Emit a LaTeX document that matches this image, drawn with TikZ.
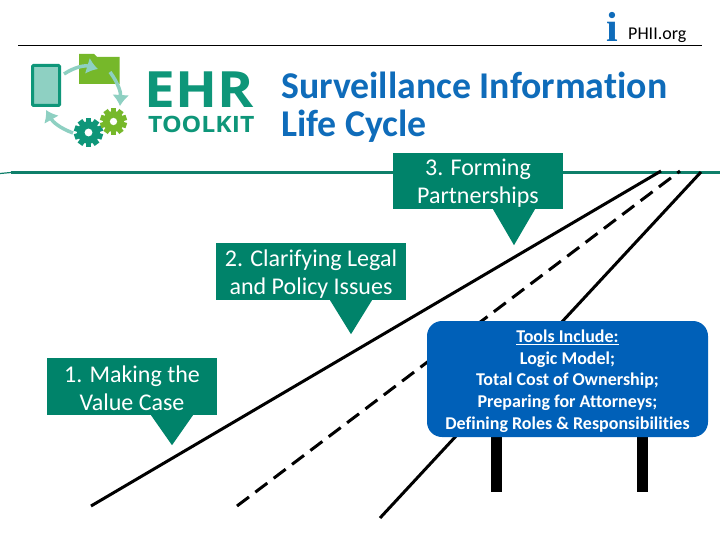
\documentclass[tikz,border=0pt]{standalone}
\usepackage{fontspec}
\setmainfont[Ligatures=NoCommon]{Carlito}
\newfontfamily\logofont[FakeStretch=1.1]{Open Sans}
\newfontfamily\markfont{Liberation Serif}
\usetikzlibrary{arrows.meta,calc,positioning}
\definecolor{barteal}{HTML}{0F7F6A}
\definecolor{callgreen}{HTML}{00836A}
\definecolor{titleblue}{HTML}{0F6CBA}
\definecolor{signblue}{HTML}{0060B8}
\definecolor{logoteal}{HTML}{0E9679}
\definecolor{logolight}{HTML}{8ED0C2}
\definecolor{logogreen}{HTML}{76B82A}
\newcommand{\gearwheel}[4]{% x, y, radius, colour
  \fill[#4] (#1,#2) circle (#3*0.78);
  \foreach \ang in {0,36,...,324}
    \fill[#4, rotate around={\ang:(#1,#2)}] ($(#1,#2)+(-#3*0.2,-#3*0.7)$) rectangle ($(#1,#2)+(#3*0.2,-#3)$);
  \fill[white] (#1,#2) circle (#3*0.27);
}
\newcommand{\callstrut}{\rule{0pt}{21pt}}
\begin{document}
\begin{tikzpicture}[x=1pt,y=-1pt,
    callbox/.style = {fill=callgreen, text=white, align=center, inner sep=0pt, font=\fontsize{24}{28}\selectfont},
    road/.style = {black, line width=3pt},
    signpost/.style = {black, line width=11pt},
    logoarrow/.style = {logolight, line width=3.5pt, -{Latex[length=11pt,width=17pt]}}]
\useasboundingbox (0,0) rectangle (720,540);
\fill[white] (0,0) rectangle (720,540);
% header
\coordinate (ruleL) at (18,46);
\coordinate (ruleR) at (702,46);
\draw[black, line width=1pt] (ruleL) -- (ruleR);
\node[text=titleblue, inner sep=0pt, font=\markfont\bfseries\fontsize{42}{42}\selectfont] (infomark) at (612.5,27) {i};
\node[anchor=base west, inner sep=0pt, font=\fontsize{18}{18}\selectfont] (phii) at (628,40) {PHII.org};
\node[anchor=north west, align=left, text=titleblue, inner sep=0pt, font=\bfseries\fontsize{37.8}{38}\selectfont] (title) at (281,72) {Surveillance Information\\Life Cycle};
% logo
\node[fill=logolight, draw=logoteal, line width=3pt, rounded corners=1pt, minimum width=27pt, minimum height=40pt, inner sep=0pt] (tablet) at (46,85.5) {};
\fill[logogreen] (79,84) -- (79,54) -- (94,54) -- (97,57) -- (119.5,57) -- (119.5,84) -- cycle;
\gearwheel{88.5}{132.5}{14.5}{logoteal}
\gearwheel{113.5}{121.5}{13.5}{logogreen}
\coordinate (arrowA) at (64,74);
\coordinate (arrowB) at (98,69);
\coordinate (arrowC) at (110,72);
\coordinate (arrowD) at (120,106);
\coordinate (arrowE) at (73,133);
\coordinate (arrowF) at (46,110);
\draw[logoarrow] (arrowA) to[bend left=25] (arrowB);
\draw[logoarrow] (arrowC) to[bend left=20] (arrowD);
\draw[logoarrow] (arrowE) to[bend left=20] (arrowF);
\node[anchor=base west, inner sep=0pt, text depth=0pt, text=logoteal, font=\logofont\bfseries\fontsize{50}{50}\selectfont] (ehr) at (144,108) {EHR};
\node[anchor=base west, inner sep=0pt, text height=16pt, text depth=0pt, text=logoteal, font=\logofont\bfseries\fontsize{22.5}{22.5}\selectfont] (toolkit) at (148,132.5) {TOOLKIT};
% bar and roads
\coordinate (stubL) at (0,173.5);
\coordinate (barL) at (11,172.5);
\coordinate (barR) at (720,172.5);
\draw[barteal, line width=1.2pt] (stubL) -- (barL);
\draw[barteal, line width=3pt] (barL) -- (barR);
\coordinate (roadAa) at (91,506);
\coordinate (roadAb) at (661,171);
\coordinate (roadBa) at (237,506);
\coordinate (roadBb) at (680,171);
\coordinate (roadCa) at (380,518);
\coordinate (roadCb) at (701,172);
\draw[road] (roadAa) -- (roadAb);
\draw[road, dash pattern=on 15pt off 8pt] (roadBa) -- (roadBb);
\draw[road] (roadCa) -- (roadCb);
% call outs
\node[callbox, minimum width=170pt, minimum height=56pt] (stepthree) at (478,181) {\callstrut 3. Forming\\Partnerships};
\node[callbox, minimum width=190pt, minimum height=57pt] (steptwo) at (311,271.5) {\callstrut 2. Clarifying Legal\\and Policy Issues};
\node[callbox, minimum width=170pt, minimum height=57pt] (stepone) at (132,386.5) {\callstrut 1. Making the\\Value Case};
\foreach \nm/\dx/\drop in {stepthree/36/36, steptwo/40/34, stepone/40/30}
  \fill[callgreen] ($(\nm.south)+(\dx-21,0)$) -- ($(\nm.south)+(\dx+21,0)$) -- ($(\nm.south)+(\dx,\drop)$) -- cycle;
% sign
\coordinate (postAt) at (496.5,436);
\coordinate (postAb) at (496.5,492);
\coordinate (postBt) at (642.5,436);
\coordinate (postBb) at (642.5,492);
\draw[signpost] (postAt) -- (postAb);
\draw[signpost] (postBt) -- (postBb);
\node[fill=signblue, rounded corners=15pt, text=white, align=center, inner sep=0pt, minimum width=281pt, minimum height=116pt, font=\bfseries\fontsize{18}{21.7}\selectfont] (sign) at (567.5,379) {\rule{0pt}{17pt}\underline{Tools Include:}\\Logic Model;\\Total Cost of Ownership;\\Preparing for Attorneys;\\Defining Roles \& Responsibilities};
\end{tikzpicture}
\end{document}
